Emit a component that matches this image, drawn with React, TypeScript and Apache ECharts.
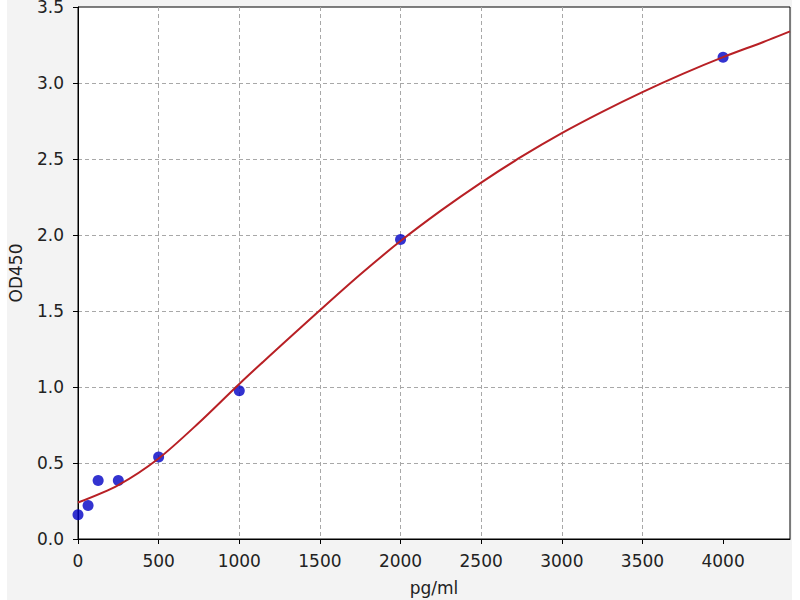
import React, { useEffect, useRef } from "react";
import * as echarts from "echarts";

const pointX = [0, 62.5, 125, 250, 500, 1000, 2000, 4000];
const pointY = [0.16, 0.22, 0.385, 0.385, 0.54, 0.975, 1.97, 3.17];

const curveX = [0, 250, 500, 750, 1000, 1250, 1500, 1750, 2000, 2250, 2500, 2750, 3000, 3250, 3500, 3750, 4000, 4250, 4415];
const curveY = [0.24, 0.355, 0.53, 0.765, 1.02, 1.265, 1.505, 1.74, 1.96, 2.16, 2.345, 2.515, 2.67, 2.81, 2.94, 3.06, 3.17, 3.27, 3.34];

const xTicks = [0, 500, 1000, 1500, 2000, 2500, 3000, 3500, 4000];
const X_MAX = 4415;

export default function App() {
  const ref = useRef<HTMLDivElement>(null);
  useEffect(() => {
    if (!ref.current) return;
    const chart = echarts.init(ref.current, null, { renderer: "svg" });
    const font = "DejaVu Sans";
    const gridLine = {
      show: true,
      showMinLine: false,
      showMaxLine: false,
      lineStyle: { color: "#a8a8a8", type: [4, 3] as any, width: 1 },
    };
    chart.setOption({
      animation: false,
      backgroundColor: "#f3f3f3",
      grid: {
        left: 71,
        right: 2,
        top: 7,
        bottom: 61,
        outerBoundsMode: "none",
        containLabel: false,
        show: true,
        backgroundColor: "#ffffff",
        borderColor: "#000000",
        borderWidth: 1,
      },
      xAxis: {
        type: "value",
        min: 0,
        max: X_MAX,
        interval: 500,
        name: "pg/ml",
        nameLocation: "middle",
        nameGap: 40,
        nameTextStyle: { fontFamily: font, fontSize: 17, color: "#222" },
        axisLine: { show: true, lineStyle: { color: "#000", width: 1 } },
        axisTick: { show: true, length: 5, inside: false, customValues: xTicks, lineStyle: { color: "#000" } },
        axisLabel: {
          customValues: xTicks,
          fontFamily: font,
          fontSize: 17,
          color: "#222",
          margin: 13,
          formatter: (v: number) => String(v),
        },
        splitLine: gridLine,
      },
      yAxis: {
        type: "value",
        min: 0,
        max: 3.5,
        interval: 0.5,
        name: "OD450",
        nameLocation: "middle",
        nameGap: 54,
        nameTextStyle: { fontFamily: font, fontSize: 17, color: "#222" },
        axisLine: { show: true, lineStyle: { color: "#000", width: 1 } },
        axisTick: { show: true, length: 5, lineStyle: { color: "#000" } },
        axisLabel: {
          fontFamily: font,
          fontSize: 17,
          color: "#222",
          margin: 14,
          formatter: (v: number) => v.toFixed(1),
        },
        splitLine: gridLine,
      },
      series: [
        {
          type: "scatter",
          data: pointX.map((x, i) => [x, pointY[i]]),
          symbolSize: 11,
          itemStyle: { color: "#0000c4" },
          z: 2,
        },
        {
          type: "line",
          data: curveX.map((x, i) => [x, curveY[i]]),
          smooth: 0.3,
          showSymbol: false,
          lineStyle: { color: "#b82025", width: 2 },
          z: 3,
        },
      ],
    });
    return () => chart.dispose();
  }, []);
  return (
    <div
      ref={ref}
      style={{ position: "fixed", left: 7, top: 0, width: 785, height: 600 }}
    />
  );
}
